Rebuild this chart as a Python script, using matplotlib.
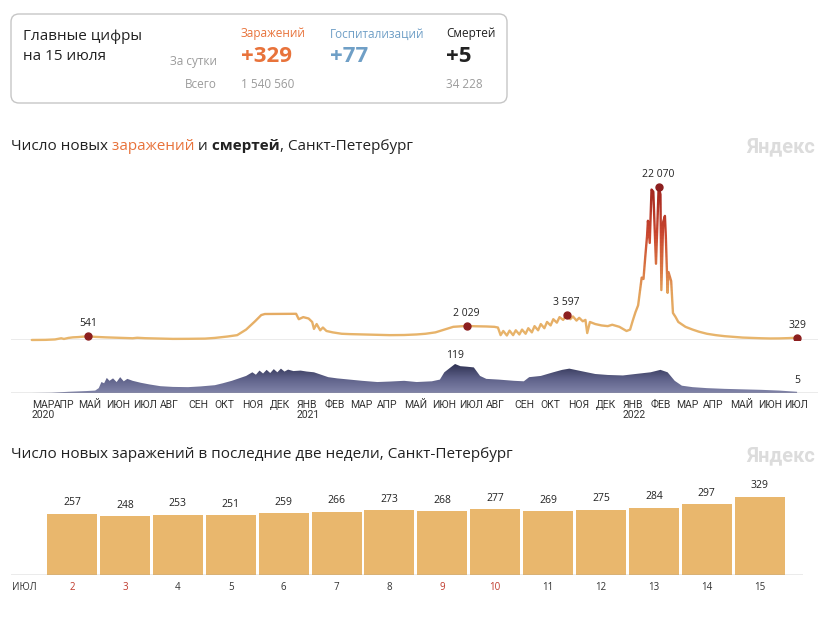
import numpy as np
import matplotlib
matplotlib.use("Agg")
import matplotlib.pyplot as plt
from matplotlib.patches import FancyBboxPatch, Rectangle
from matplotlib.colors import LinearSegmentedColormap

plt.rcParams['font.family'] = ['Open Sans', 'DejaVu Sans']

# ==========================================================
# DATA
# ==========================================================
case_dates = [
    '2020-03-10', '2020-03-25', '2020-04-05', '2020-04-12', '2020-04-15', '2020-04-20',
    '2020-04-25', '2020-05-01', '2020-05-06', '2020-05-12', '2020-05-20', '2020-06-01',
    '2020-06-15', '2020-07-01', '2020-07-06', '2020-07-15', '2020-08-01', '2020-08-15',
    '2020-09-01', '2020-09-20', '2020-10-01', '2020-10-15', '2020-10-26', '2020-11-05',
    '2020-11-15', '2020-11-22', '2020-11-26', '2020-12-31', '2021-01-03', '2021-01-08',
    '2021-01-14', '2021-01-18', '2021-01-20', '2021-01-23', '2021-01-27', '2021-01-30',
    '2021-02-03', '2021-02-10', '2021-02-20', '2021-03-01', '2021-03-15', '2021-04-01',
    '2021-04-15', '2021-05-01', '2021-05-15', '2021-05-25', '2021-06-05', '2021-06-15',
    '2021-06-25', '2021-07-10', '2021-07-20', '2021-08-01', '2021-08-10', '2021-08-14',
    '2021-08-17', '2021-08-20', '2021-08-24', '2021-08-27', '2021-08-31', '2021-09-03',
    '2021-09-07', '2021-09-10', '2021-09-14', '2021-09-17', '2021-09-21', '2021-09-24',
    '2021-09-28', '2021-10-01', '2021-10-05', '2021-10-08', '2021-10-12', '2021-10-15',
    '2021-10-19', '2021-10-22', '2021-10-26', '2021-10-30', '2021-11-03', '2021-11-06',
    '2021-11-10', '2021-11-13', '2021-11-17', '2021-11-20', '2021-11-22', '2021-11-25',
    '2021-12-01', '2021-12-08', '2021-12-15', '2021-12-20', '2021-12-28', '2022-01-05',
    '2022-01-09', '2022-01-12', '2022-01-15', '2022-01-18', '2022-01-20', '2022-01-22',
    '2022-01-24', '2022-01-26', '2022-01-28', '2022-01-29', '2022-01-31', '2022-02-02',
    '2022-02-04', '2022-02-07', '2022-02-10', '2022-02-12', '2022-02-13', '2022-02-15',
    '2022-02-17', '2022-02-18', '2022-02-20', '2022-02-21', '2022-02-24', '2022-02-26',
    '2022-03-01', '2022-03-04', '2022-03-12', '2022-03-20', '2022-03-27', '2022-04-05',
    '2022-04-15', '2022-04-25', '2022-05-05', '2022-05-15', '2022-05-25', '2022-06-05',
    '2022-06-15', '2022-06-25', '2022-07-05', '2022-07-15',
]
case_values = [
    3, 20, 80, 250, 150, 300,
    380, 420, 480, 541, 450, 380,
    320, 250, 320, 260, 200, 160,
    170, 200, 300, 500, 700, 1500,
    2700, 3600, 3750, 3780, 3000, 3300,
    3100, 2600, 1600, 2300, 1400, 1800,
    1300, 1100, 900, 850, 800, 750,
    700, 720, 800, 900, 1100, 1500,
    1900, 2029, 1980, 1950, 1900, 1800,
    700, 1300, 650, 1350, 700, 1400,
    800, 1500, 900, 1700, 1100, 2000,
    1400, 2300, 1700, 2600, 2100, 3000,
    2500, 3300, 2900, 3597, 3000, 3400,
    2800, 3200, 2700, 2900, 1000, 2600,
    2300, 2100, 2000, 2200, 1900, 1300,
    1500, 2800, 4000, 5000, 7000, 9000,
    8800, 12000, 15000, 17200, 14000, 21700,
    21400, 11000, 22070, 21000, 7200, 17000,
    17900, 15000, 6800, 9800, 8500, 3900,
    3300, 2600, 1900, 1500, 1200, 900,
    700, 550, 450, 350, 300, 250,
    220, 230, 270, 329,
]

marked_dates = ['2020-05-12', '2021-07-10', '2021-10-30', '2022-02-10', '2022-07-15']
marked_values = [541, 2029, 3597, 22070, 329]
marked_labels = ['541', '2 029', '3 597', '22 070', '329']

death_dates = [
    '2020-03-10', '2020-04-01', '2020-04-20', '2020-05-10', '2020-05-20', '2020-05-24',
    '2020-05-27', '2020-05-30', '2020-06-02', '2020-06-05', '2020-06-09', '2020-06-13',
    '2020-06-17', '2020-06-21', '2020-06-25', '2020-07-01', '2020-07-10', '2020-07-20',
    '2020-08-01', '2020-08-15', '2020-09-01', '2020-09-15', '2020-10-01', '2020-10-10',
    '2020-10-20', '2020-10-28', '2020-11-05', '2020-11-12', '2020-11-16', '2020-11-20',
    '2020-11-24', '2020-11-28', '2020-12-02', '2020-12-06', '2020-12-10', '2020-12-14',
    '2020-12-18', '2020-12-22', '2020-12-28', '2021-01-05', '2021-01-12', '2021-01-20',
    '2021-01-28', '2021-02-05', '2021-02-15', '2021-03-01', '2021-03-15', '2021-04-01',
    '2021-04-15', '2021-05-01', '2021-05-15', '2021-06-01', '2021-06-10', '2021-06-15',
    '2021-06-22', '2021-06-27', '2021-07-03', '2021-07-10', '2021-07-18', '2021-07-25',
    '2021-08-01', '2021-08-15', '2021-09-01', '2021-09-12', '2021-09-18', '2021-10-01',
    '2021-10-15', '2021-10-25', '2021-11-02', '2021-11-15', '2021-12-01', '2021-12-15',
    '2022-01-01', '2022-01-15', '2022-02-01', '2022-02-12', '2022-02-20', '2022-02-28',
    '2022-03-08', '2022-03-20', '2022-04-05', '2022-04-25', '2022-05-15', '2022-06-05',
    '2022-06-25', '2022-07-15',
]
death_values = [
    0, 1, 5, 8, 10, 20,
    45, 40, 62, 50, 60, 45,
    65, 48, 58, 50, 42, 35,
    28, 25, 24, 27, 32, 40,
    50, 60, 70, 85, 75, 92,
    80, 95, 82, 98, 85, 100,
    88, 96, 90, 92, 88, 85,
    75, 65, 60, 55, 50, 45,
    47, 50, 45, 48, 55, 85,
    105, 119, 110, 108, 105, 70,
    58, 55, 50, 48, 65, 70,
    85, 95, 100, 90, 78, 74,
    72, 78, 85, 95, 85, 50,
    30, 24, 20, 17, 15, 13,
    10, 5,
]

month_names = ['МАР', 'АПР', 'МАЙ', 'ИЮН', 'ИЮЛ', 'АВГ', 'СЕН', 'ОКТ', 'НОЯ', 'ДЕК',
               'ЯНВ', 'ФЕВ', 'МАР', 'АПР', 'МАЙ', 'ИЮН', 'ИЮЛ', 'АВГ', 'СЕН', 'ОКТ',
               'НОЯ', 'ДЕК', 'ЯНВ', 'ФЕВ', 'МАР', 'АПР', 'МАЙ', 'ИЮН', 'ИЮЛ']

bar_days = [2, 3, 4, 5, 6, 7, 8, 9, 10, 11, 12, 13, 14, 15]
bar_values = [257, 248, 253, 251, 259, 266, 273, 268, 277, 269, 275, 284, 297, 329]
weekend_days = [2, 3, 9, 10]

# ==========================================================
# LAYOUT HELPERS (pixel based)
# ==========================================================
W, H = 835, 617
ORIGIN = np.datetime64('2021-01-01')
PX0, PX_PER_DAY = 297.0, 0.893

fig = plt.figure(figsize=(W / 100, H / 100), dpi=100)

bg = fig.add_axes([0, 0, 1, 1])
bg.set_xlim(0, W)
bg.set_ylim(H, 0)
bg.axis('off')


def px_axes(left, top, right, bottom):
    ax = fig.add_axes([left / W, 1 - bottom / H, (right - left) / W, (bottom - top) / H])
    ax.axis('off')
    return ax


def to_days(dates):
    return (np.array(dates, dtype='datetime64[D]') - ORIGIN).astype(float)


def px_to_day(px):
    return (px - PX0) / PX_PER_DAY


def day_to_px(day):
    return PX0 + PX_PER_DAY * day


DARK = '#222222'
GREY = '#9b9b9b'
ORANGE = '#e8733b'
BLUE = '#6f9fc6'
NARROW = ['Roboto', 'DejaVu Sans']

# ==========================================================
# SUMMARY BOX
# ==========================================================
box = FancyBboxPatch((11, 14), 496, 89, boxstyle='round,pad=0,rounding_size=8',
                     ec='#c6c6c6', fc='white', lw=1)
bg.add_patch(box)
bg.text(23, 37, 'Главные цифры', fontsize=11, color=DARK, va='center')
bg.text(23, 57, 'на 15 июля', fontsize=11, color=DARK, va='center')
bg.text(217, 62, 'За сутки', fontsize=8.5, color=GREY, va='center', ha='right')
bg.text(217, 84, 'Всего', fontsize=8.5, color=GREY, va='center', ha='right')

cols = [(241, 'Заражений', '+329', '1 540 560', ORANGE),
        (330, 'Госпитализаций', '+77', '', BLUE),
        (446, 'Смертей', '+5', '34 228', DARK)]
for x, head, day_val, total, c in cols:
    bg.text(x, 34, head, fontsize=8.5, color=c, va='center')
    bg.text(x, 57, day_val, fontsize=16, color=c, va='center', fontweight='bold')
    if total:
        bg.text(x, 84, total, fontsize=8.5, color=GREY, va='center')


# ==========================================================
# TITLES
# ==========================================================
def multi_text(x, y, parts, fontsize):
    renderer = fig.canvas.get_renderer()
    for s, color, weight in parts:
        t = bg.text(x, y, s, fontsize=fontsize, color=color, fontweight=weight, va='center')
        bb = t.get_window_extent(renderer=renderer)
        x = bb.x1


multi_text(11, 146, [('Число новых', DARK, 'normal'),
                     (' заражений', ORANGE, 'normal'),
                     (' и', DARK, 'normal'),
                     (' смертей', DARK, 'bold'),
                     (', Санкт-Петербург', DARK, 'normal')], 11)
multi_text(11, 455, [('Число новых заражений в последние две недели, Санкт-Петербург', DARK, 'normal')], 11)
for y in (147, 456):
    bg.text(815, y, 'Яндекс', fontsize=14.5, color='#dcdcdc', fontweight='bold',
            ha='right', va='center', family=NARROW)

# ==========================================================
# CASES LINE
# ==========================================================
ax_c = px_axes(11, 170, 818, 340)
cx = to_days(case_dates)
cy = np.array(case_values, dtype=float)
xmin, xmax = px_to_day(11), px_to_day(818)
ymax_c = 22070 * 170 / 153
ax_c.set_xlim(xmin, xmax)
ax_c.set_ylim(0, ymax_c)
ax_c.axhline(0, color='#9a9a9a', lw=1)

line_cmap = LinearSegmentedColormap.from_list(
    'cases', [(0, '#e8b66d'), (0.3, '#e3a35c'), (0.45, '#da7a45'), (0.7, '#c9462f'), (1, '#a1251f')])
edges = np.linspace(0, 22500, 46)
for lo, hi in zip(edges[:-1], edges[1:]):
    ln, = ax_c.plot(cx, cy, color=line_cmap((lo + hi) / 2 / 22070), lw=1.7,
                    solid_joinstyle='round', solid_capstyle='round')
    if lo == 0:
        lo = -1000
    ln.set_clip_path(Rectangle((xmin, lo), xmax - xmin, hi - lo, transform=ax_c.transData))

mx = to_days(marked_dates)
ax_c.plot(mx, marked_values, 'o', color='#8c1f1f', ms=5, zorder=5)
for x, v, lab in zip(mx, marked_values, marked_labels):
    ax_c.annotate(lab, (x, v), xytext=(0, 5), textcoords='offset points',
                  ha='center', va='bottom', fontsize=7.5, color=DARK)

# ==========================================================
# DEATHS AREA
# ==========================================================
ax_d = px_axes(11, 358, 818, 393)
dx = to_days(death_dates)
dy = np.array(death_values, dtype=float)
poly = ax_d.fill_between(dx, 0, dy, facecolor='none', edgecolor='none')
death_cmap = LinearSegmentedColormap.from_list('deaths', ['#8184a9', '#5e6189', '#2e3152'])
grad = np.linspace(0, 1, 256).reshape(-1, 1)
im = ax_d.imshow(grad, cmap=death_cmap, aspect='auto', origin='lower',
                 extent=[dx[0], dx[-1], 0, 119])
im.set_clip_path(poly.get_paths()[0], transform=ax_d.transData)
ax_d.set_xlim(xmin, xmax)
ax_d.set_ylim(0, 119 * 35 / 29)
ax_d.axhline(0, color='#9a9a9a', lw=1)
peak_i = int(np.argmax(dy))
ax_d.annotate('119', (dx[peak_i], dy[peak_i]), xytext=(0, 2), textcoords='offset points',
              ha='center', va='bottom', fontsize=7.5, color=DARK)
ax_d.annotate(str(death_values[-1]), (dx[-1], dy[-1]), xytext=(0, 4), textcoords='offset points',
              ha='center', va='bottom', fontsize=7.5, color=DARK)

# month labels
months = np.arange('2020-03', '2022-08', dtype='datetime64[M]')
for m, name in zip(months, month_names):
    x = max(day_to_px(to_days([m.astype('datetime64[D]')])[0]), 32)
    if 32 < x < 60:
        x = 54
    bg.text(x, 405, name, fontsize=7.5, color='#333333', va='center', family=NARROW)
    if name == 'ЯНВ' or x == 32:
        bg.text(x, 415, str(m.astype(object).year), fontsize=7.5, color='#333333',
                va='center', family=NARROW)

# ==========================================================
# LAST TWO WEEKS BARS
# ==========================================================
ax_b = px_axes(11, 475, 803, 575)
pitch = 52.9
bx = np.arange(len(bar_values))
ax_b.set_xlim((11 - 72) / pitch, (803 - 72) / pitch)
ax_b.set_ylim(0, 100 / 0.2375)
ax_b.bar(bx, bar_values, width=50 / pitch, color='#e9b76d')
ax_b.axhline(0, color='#9a9a9a', lw=1)
for x, v in zip(bx, bar_values):
    ax_b.annotate(str(v), (x, v), xytext=(0, 4), textcoords='offset points',
                  ha='center', va='bottom', fontsize=7.5, color=DARK)

bg.text(12, 588, 'ИЮЛ', fontsize=7, color='#333333', va='center')
for i, d in enumerate(bar_days):
    c = '#c0392b' if d in weekend_days else '#333333'
    bg.text(72 + pitch * i, 588, str(d), fontsize=7, color=c, va='center', ha='center')

fig.savefig('out.png', dpi=100)
